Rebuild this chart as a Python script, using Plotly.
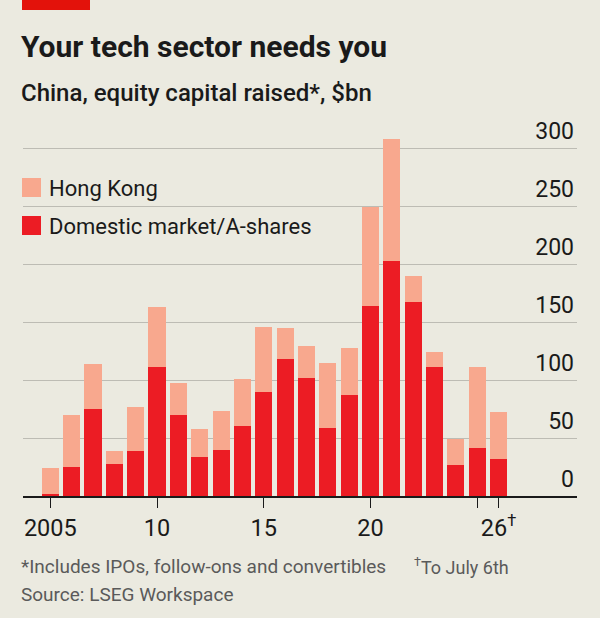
import plotly.graph_objects as go

# ---- data ----
years = list(range(2005, 2027))
domestic = [1.5, 25, 75, 28, 39, 111, 70, 34, 40, 60, 90, 118, 102, 59, 87, 164, 203, 167, 111, 27, 41, 32]
total = [24, 70, 114, 39, 77, 163, 97, 58, 73, 101, 146, 145, 129, 115, 128, 249, 308, 190, 124, 49, 111, 72]
hong_kong = [t - d for t, d in zip(total, domestic)]

tick_vals = [2005, 2010, 2015, 2020, 2025, 2026]
tick_text = ["2005", "10", "15", "20", "", "26<sup>†</sup>"]
y_ticks = [0, 50, 100, 150, 200, 250, 300]

BG = "#EBEAE0"
RED = "#EC1C24"
PINK = "#F8A88E"
FONT = "Roboto"

W, H = 600, 618
L, R, T, B = 23, 577, 110, 496
Y_TOP = (B - T) / 1.16


def px(x):
    return (x - L) / (R - L)


def py(y):
    return (B - y) / (B - T)


fig = go.Figure()
fig.add_trace(go.Bar(x=years, y=domestic, name="Domestic market/A-shares",
                     marker=dict(color=RED, line=dict(width=0)), width=0.8))
fig.add_trace(go.Bar(x=years, y=hong_kong, name="Hong Kong",
                     marker=dict(color=PINK, line=dict(width=0)), width=0.8))

fig.update_layout(
    width=W, height=H,
    barmode="stack",
    paper_bgcolor=BG, plot_bgcolor=BG,
    margin=dict(l=L, r=W - R, t=T, b=H - B, pad=0),
    showlegend=False,
    font=dict(family=FONT, color="#1a1a1a", size=23),
    xaxis=dict(
        range=[2003.72, 2029.68],
        tickmode="array", tickvals=tick_vals, ticktext=tick_text,
        ticks="outside", ticklen=10, tickwidth=1.2, tickcolor="#1a1a1a",
        showline=True, linecolor="#1a1a1a", linewidth=2,
        showgrid=False, zeroline=False,
        tickfont=dict(size=23.5, family=FONT, color="#1a1a1a"),
    ),
    yaxis=dict(
        range=[0, Y_TOP],
        side="right",
        tickmode="array", tickvals=y_ticks,
        ticks="", ticklabelposition="inside",
        ticklabelshift=-17, ticklabelstandoff=0,
        showgrid=True, gridcolor="#BDBCB4", gridwidth=1,
        zeroline=False, showline=False,
        tickfont=dict(size=23, family=FONT, color="#1a1a1a"),
    ),
)

shapes = []
# red tag at top
shapes.append(dict(type="rect", xref="paper", yref="paper",
                   x0=px(22), x1=px(90), y0=py(0), y1=py(10),
                   fillcolor="#E3120B", line=dict(width=0), layer="above"))
# legend background (hides gridline behind legend)
shapes.append(dict(type="rect", xref="paper", yref="paper",
                   x0=px(20), x1=px(331), y0=py(170), y1=py(245),
                   fillcolor=BG, line=dict(width=0), layer="between"))
# legend swatches
shapes.append(dict(type="rect", xref="paper", yref="paper",
                   x0=px(22), x1=px(41), y0=py(178), y1=py(197),
                   fillcolor=PINK, line=dict(width=0), layer="above"))
shapes.append(dict(type="rect", xref="paper", yref="paper",
                   x0=px(22), x1=px(41), y0=py(216), y1=py(235),
                   fillcolor=RED, line=dict(width=0), layer="above"))
fig.update_layout(shapes=shapes)

ann = []


def text(x, y, s, size, color="#1a1a1a", family=FONT, weight="normal"):
    ann.append(dict(xref="paper", yref="paper", x=px(x), y=py(y), text=s,
                    showarrow=False, xanchor="left", yanchor="middle",
                    font=dict(size=size, color=color, family=family, weight=weight)))


text(19, 46, "<b>Your tech sector needs you</b>", 30)
text(19, 93, "China, equity capital raised*, $bn", 24, weight=500)
text(47, 188, "Hong Kong", 22)
text(47, 226, "Domestic market/A-shares", 22)
text(19, 566, "*Includes IPOs, follow-ons and convertibles", 19, "#5a5a5a")
text(412, 566, "<sup>†</sup>To July 6th", 18, "#5a5a5a")
text(19, 594, "Source: LSEG Workspace", 19, "#5a5a5a")
fig.update_layout(annotations=ann)

fig.write_html("out.html")
